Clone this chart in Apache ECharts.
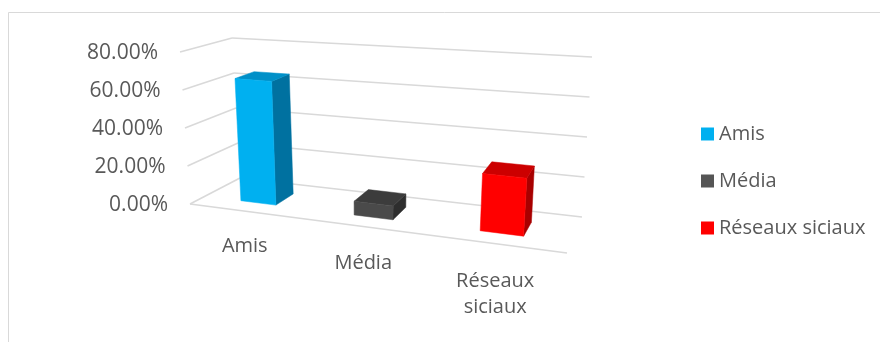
<!DOCTYPE html>
<html>
<head>
<meta charset="utf-8">
<script src="https://cdn.jsdelivr.net/npm/echarts@6/dist/echarts.min.js"></script>
<style>
  html, body { margin: 0; padding: 0; background: #ffffff; }
  #chart { width: 880px; height: 342px; }
</style>
</head>
<body>
<div id="chart"></div>
<script>
// Data
const categories = ['Amis', 'Média', 'Réseaux siciaux'];
const categoryLabels = ['Amis', 'Média', 'Réseaux\nsiciaux'];
const shares = [0.65, 0.07, 0.28];
const valueTicks = [0, 0.2, 0.4, 0.6, 0.8];

// Face colours per series: front, side, top
const FRONT = ['#00b0f0', '#4a4a4a', '#ff0000'];
const SIDE = ['#0071a0', '#2e2e2e', '#a80000'];
const TOP = ['#0090c8', '#3c3c3c', '#cc0000'];
const LEGEND = ['#00b0f0', '#555555', '#ff0000'];
const TEXT = '#595959';
const GRID = '#d9d9d9';
const FONT = '"Open Sans", "Noto Sans", sans-serif';

// Screen frame of the 3D plot box: [bottom, top] corners of each vertical edge
const BOX = {
  backLeft: [[240, 178], [232, 38]],
  backRight: [[582, 217], [592, 57]],
  frontLeft: [[190, 204], [180, 52]],
  frontRight: [[567, 253], [580, 81]]
};
const PERSP = -0.15;        // horizontal foreshortening
const BAR_RATIO = 0.32;     // bar width as a share of the category band
const DEPTH_BACK = 0.3, DEPTH_FRONT = 0.7;

function lerp(a, b, t) { return [a[0] + (b[0] - a[0]) * t, a[1] + (b[1] - a[1]) * t]; }
// u: 0..1 across, h: 0..1 up, d: 0 (back wall) .. 1 (front edge)
function project(u, h, d) {
  const s = u * (1 + PERSP) / (1 + PERSP * u);
  const bl = lerp(BOX.backLeft[0], BOX.backLeft[1], h);
  const br = lerp(BOX.backRight[0], BOX.backRight[1], h);
  const fl = lerp(BOX.frontLeft[0], BOX.frontLeft[1], h);
  const fr = lerp(BOX.frontRight[0], BOX.frontRight[1], h);
  return lerp(lerp(bl, fl, d), lerp(br, fr, d), s);
}
function norm(cs, p) {
  return [(p[0] - cs.x) / cs.width, (cs.y + cs.height - p[1]) / cs.height];
}

// Walls, floor and value labels
function renderWalls(params, api) {
  const cs = params.coordSys;
  const v = api.value(1);
  const h = norm(cs, api.coord([0, v]))[1];
  const line = (a, b) => ({
    type: 'line',
    shape: { x1: a[0], y1: a[1], x2: b[0], y2: b[1] },
    style: { stroke: GRID, lineWidth: 1.6 }
  });
  const children = [
    line(project(0, h, 0), project(1, h, 0)),
    line(project(0, h, 1), project(0, h, 0))
  ];
  if (v === 0) children.push(line(project(0, 0, 1), project(1, 0, 1)));
  const lp = project(0, h, 1);
  children.push({
    type: 'text',
    x: lp[0] - 22, y: lp[1] + 1,
    style: {
      text: (v * 100).toFixed(2) + '%',
      fill: TEXT, font: '21px ' + FONT,
      align: 'right', verticalAlign: 'middle'
    }
  });
  return { type: 'group', children };
}

// One 3D column
function renderBar(params, api) {
  const cs = params.coordSys;
  const k = params.seriesIndex - 1;
  const i = api.value(0), val = api.value(1);
  const c = api.coord([i, val]);
  const c0 = api.coord([i, 0]);
  const half = api.size([1, 0])[0] * BAR_RATIO / 2;
  const uL = norm(cs, [c[0] - half, 0])[0];
  const uR = norm(cs, [c[0] + half, 0])[0];
  const hT = norm(cs, c)[1];
  const hB = norm(cs, c0)[1];
  const D0 = DEPTH_BACK, D1 = DEPTH_FRONT;
  const poly = (pts, fill) => ({
    type: 'polygon', shape: { points: pts },
    style: { fill, stroke: fill, lineWidth: 0.5 }
  });
  return {
    type: 'group',
    children: [
      poly([project(uR, hB, D1), project(uR, hB, D0), project(uR, hT, D0), project(uR, hT, D1)], SIDE[k]),
      poly([project(uL, hT, D1), project(uR, hT, D1), project(uR, hT, D0), project(uL, hT, D0)], TOP[k]),
      poly([project(uL, hB, D1), project(uR, hB, D1), project(uR, hT, D1), project(uL, hT, D1)], FRONT[k])
    ]
  };
}

// Category names under the front edge
function renderCategory(params, api) {
  const cs = params.coordSys;
  const i = api.value(0);
  const u = norm(cs, api.coord([i, 0]))[0];
  const s = u * (1 + PERSP) / (1 + PERSP * u);
  const p = project(u, 0, 1);
  return {
    type: 'text',
    x: p[0], y: p[1] + 21 + 5 * s,
    style: {
      text: categoryLabels[i],
      fill: TEXT, font: '20px ' + FONT,
      align: 'center', verticalAlign: 'top', lineHeight: 26
    }
  };
}

const series = [{
  type: 'custom', name: 'walls', z: 1, clip: false, silent: true,
  renderItem: renderWalls,
  data: valueTicks.map(v => [0, v])
}];
categories.forEach((name, i) => {
  series.push({
    type: 'custom', name, z: 2, clip: false,
    itemStyle: { color: LEGEND[i] },
    renderItem: renderBar,
    data: [[i, shares[i]]]
  });
});
series.push({
  type: 'custom', name: 'labels', z: 3, clip: false, silent: true,
  renderItem: renderCategory,
  data: categories.map((c, i) => [i, 0])
});

const chart = echarts.init(document.getElementById('chart'), null, { renderer: 'canvas' });
chart.setOption({
  animation: false,
  backgroundColor: '#ffffff',
  grid: { left: 190, right: 313, top: 52, bottom: 138 },
  xAxis: { type: 'category', data: categories, show: false },
  yAxis: { type: 'value', min: 0, max: 0.8, interval: 0.2, show: false },
  legend: {
    data: categories,
    orient: 'vertical',
    left: 696, top: 119,
    icon: 'rect', itemWidth: 13, itemHeight: 13, itemGap: 27,
    textStyle: { color: TEXT, fontSize: 20, fontFamily: FONT, lineHeight: 20 },
    selectedMode: false
  },
  graphic: [{
    type: 'rect', silent: true,
    shape: { x: 8.5, y: 12.5, width: 900, height: 400 },
    style: { fill: 'none', stroke: GRID, lineWidth: 1 }
  }],
  series
});
</script>
</body>
</html>
